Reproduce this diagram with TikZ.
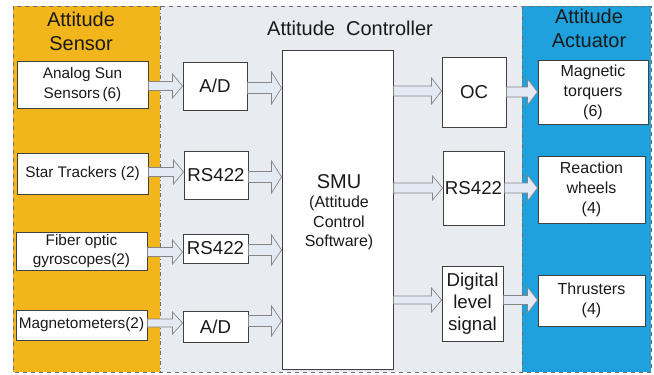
\documentclass[tikz,border=0pt]{standalone}
\usepackage{fontspec}
\setmainfont{Liberation Sans}
\usetikzlibrary{calc}
\definecolor{sensorc}{HTML}{F2B51C}
\definecolor{ctrlc}{HTML}{E8ECF1}
\definecolor{actc}{HTML}{1EA1DC}
\definecolor{arrfill}{HTML}{E4EAF3}
\definecolor{arrline}{HTML}{858585}
\definecolor{boxline}{HTML}{404040}
\definecolor{panelline}{HTML}{6E6E6E}
\definecolor{txt}{HTML}{1A1A1A}
% block arrow: from node, to node, y (px), shaft half height (px), head half height (px)
\newcommand\barrow[5]{%
  \path[barr] let \p1=(#1.east), \p2=(#2.west), \p3=(0,#3) in
    (\x1,{\y3+#4*0.75pt}) -- ({\x2-7.5pt},{\y3+#4*0.75pt}) --
    ({\x2-7.5pt},{\y3+#5*0.75pt}) -- (\x2,\y3) --
    ({\x2-7.5pt},{\y3-#5*0.75pt}) -- ({\x2-7.5pt},{\y3-#4*0.75pt}) --
    (\x1,{\y3-#4*0.75pt}) -- cycle;}
\begin{document}
\begin{tikzpicture}[x=0.75pt,y=-0.75pt,
  barr/.style={fill=arrfill, draw=arrline, line width=0.5pt, line join=miter},
  box/.style={draw=boxline, line width=0.7pt, fill=white, align=center, inner sep=1pt, text=txt},
  wh/.style 2 args={minimum width=#1*0.75pt, minimum height=#2*0.75pt},
  sens/.style={box, font=\fontsize{11.5}{14.5}\selectfont},
  intf/.style={box, font=\fontsize{14}{16.5}\selectfont},
  actu/.style={box, font=\fontsize{12}{15}\selectfont},
  title/.style={align=center, text=txt, font=\fontsize{15}{18}\selectfont}]
\useasboundingbox (0,0) rectangle (654,375);
\fill[white] (0,0) rectangle (654,375);
% panels
\fill[sensorc] (13,6) rectangle (160,372);
\fill[ctrlc] (160,6) rectangle (522,372);
\fill[actc] (522,6) rectangle (651,372);
\draw[panelline, dashed, line width=0.6pt] (13,6) rectangle (651,372);
\draw[panelline, dash dot, line width=0.6pt] (160,6) -- (160,372);
\draw[panelline, dash dot, line width=0.6pt] (522,6) -- (522,372);
% titles
\node[title] (tsens) at (81,31) {Attitude\\Sensor};
\node[title] (tctrl) at (350,28) {Attitude~~Controller};
\node[title] (tact) at (589,28) {Attitude\\Actuator};
% sensors
\node[sens, wh={131}{47}] (sun) at (82.5,84.5) {Analog Sun\\Sensors\,(6)};
\node[sens, wh={131}{41}] (star) at (82.5,173.5) {Star Trackers (2)};
\node[sens, wh={131}{38}] (fiber) at (81.5,251) {Fiber optic\\gyroscopes(2)};
\node[sens, wh={131}{30}] (mag) at (81.5,325) {Magnetometers(2)};
% interfaces
\node[intf, wh={64}{48}] (ad1) at (215,86) {A/D};
\node[intf, wh={64}{48}] (rs1) at (216,175.5) {RS422};
\node[intf, wh={65}{29}] (rs2) at (215.5,248.5) {RS422};
\node[intf, wh={65}{31}] (ad2) at (215.5,326.5) {A/D};
% SMU
\node[box, wh={111}{319}] (smu) at (337.5,209.5) {};
\node[align=center, text=txt, font=\fontsize{12}{14.6}\selectfont] (smut) at (339,212)
  {{\fontsize{15}{18}\selectfont SMU}\\(Attitude\\Control\\Software)};
% output interfaces
\node[intf, wh={64}{70}] (oc) at (474,92) {OC};
\node[intf, wh={61}{74}] (rs3) at (473.5,188) {RS422};
\node[intf, wh={61}{75}] (dig) at (472.5,303.5) {Digital\\level\\signal};
% actuators
\node[actu, wh={110}{64}] (magt) at (593,92) {Magnetic\\torquers\\(6)};
\node[actu, wh={107}{67}] (rw) at (591.5,189.5) {Reaction\\wheels\\(4)};
\node[actu, wh={107}{51}] (thr) at (591.5,300.5) {Thrusters\\(4)};
% arrows
\barrow{sun}{ad1}{86}{4.5}{12}
\barrow{star}{rs1}{172}{4.5}{12}
\barrow{fiber}{rs2}{252}{4.5}{12}
\barrow{mag}{ad2}{323}{4}{11}
\barrow{ad1}{smu}{88}{5.5}{16}
\barrow{rs1}{smu}{177}{5.5}{16}
\barrow{rs2}{smu}{250}{5.5}{15}
\barrow{ad2}{smu}{321}{5.5}{15}
\barrow{smu}{oc}{91}{5}{13}
\barrow{smu}{rs3}{188}{5}{12}
\barrow{smu}{dig}{300}{4}{12}
\barrow{oc}{magt}{92}{5}{13}
\barrow{rs3}{rw}{188}{5}{13}
\barrow{dig}{thr}{300}{4.5}{13}
\end{tikzpicture}
\end{document}
